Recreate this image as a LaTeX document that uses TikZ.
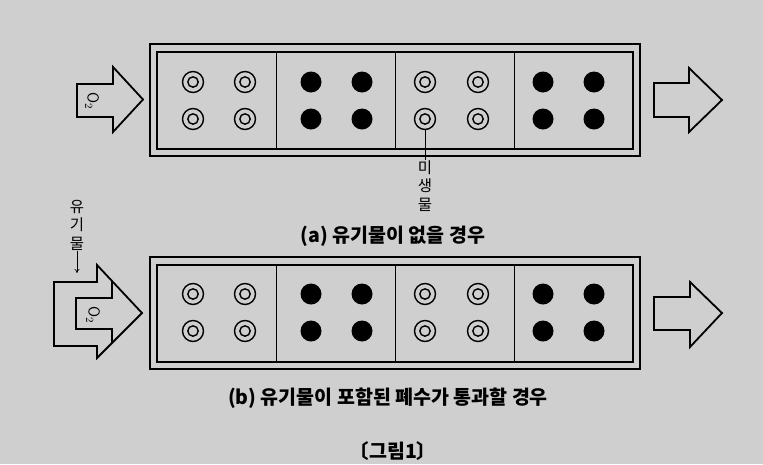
\documentclass[tikz,border=0pt]{standalone}
\usepackage{fontspec}
\newfontfamily\kr{Noto Sans CJK KR}
\usetikzlibrary{arrows.meta}
\definecolor{bg}{gray}{0.81}
\tikzset{
  ring/.style={circle, draw, line width=1.4pt, minimum size=21pt, inner sep=0pt,
    path picture={\draw[line width=1.4pt] (path picture bounding box.center) circle (5.2pt);}},
  dot/.style={circle, fill=black, minimum size=21pt, inner sep=0pt},
  outerbox/.style={line width=2pt},
  innerbox/.style={line width=1.1pt},
  divider/.style={line width=0.9pt},
  bigarrow/.style={line width=1.8pt, line join=miter},
  vlab/.style={font=\kr\fontsize{15.5}{18.5}\selectfont, align=center, inner sep=0pt},
  caption/.style={font=\kr\bfseries\fontsize{19.5}{21}\selectfont, inner sep=0pt},
  otwo/.style={font=\sffamily\fontsize{16}{16}\selectfont, rotate=-90, inner sep=0pt}
}
\begin{document}
\begin{tikzpicture}[x=1pt,y=-1pt]
\fill[bg] (0,0) rectangle (763,464);
\useasboundingbox (0,0) rectangle (763,464);

% ---------- top panel ----------
\draw[outerbox] (150,44) rectangle (640,156);
\draw[innerbox] (157,52) rectangle (633,149);
\foreach \xx in {276,395,514} \draw[divider] (\xx,52) -- (\xx,149);
\foreach \row/\yy in {1/82,2/119}{
  \foreach \col/\xx in {1/193,2/245,5/425,6/478}{\node[ring] (ta\row\col) at (\xx,\yy) {};}
  \foreach \col/\xx in {3/311,4/362,7/543,8/594}{\node[dot] (ta\row\col) at (\xx,\yy) {};}
}
% left arrow
\draw[bigarrow] (77,84) -- (113,84) -- (113,67) -- (143,99.5) -- (113,132) -- (113,117) -- (77,117) -- cycle;
\node[otwo] (o2a) at (92,101) {O$_2$};
% right arrow
\draw[bigarrow] (654,83) -- (689,83) -- (689,68) -- (722,100) -- (689,132) -- (689,117) -- (654,117) -- cycle;
% microbe label
\node[vlab, anchor=north] (mic) at (425,160) {미\\생\\물};
\draw[line width=0.6pt] (ta25.south) -- (mic.north);

\node[caption] (capa) at (393,236) {(a) 유기물이 없을 경우};

% ---------- bottom panel ----------
\draw[outerbox] (150,257) rectangle (640,369);
\draw[innerbox] (157,265) rectangle (633,362);
\foreach \xx in {276,395,514} \draw[divider] (\xx,265) -- (\xx,362);
\foreach \row/\yy in {1/294,2/331}{
  \foreach \col/\xx in {1/193,2/245,5/425,6/478}{\node[ring] (tb\row\col) at (\xx,\yy) {};}
  \foreach \col/\xx in {3/311,4/362,7/543,8/594}{\node[dot] (tb\row\col) at (\xx,\yy) {};}
}
% left double arrow
\draw[bigarrow] (54,282) -- (97,282) -- (97,265) -- (142,313) -- (97,358) -- (97,346) -- (54,346) -- cycle;
\draw[bigarrow] (112,281) -- (112,298) -- (76,298) -- (76,329) -- (112,329) -- (112,343);
\node[otwo] (o2b) at (93,315) {O$_2$};
% organic matter label
\node[vlab, anchor=north] (org) at (77,200) {유\\기\\물};
\coordinate (orgend) at (77,273);
\draw[line width=0.7pt, -{To[length=4pt,width=5pt]}] (org.south) -- (orgend);
% right arrow
\draw[bigarrow] (654,297) -- (690,297) -- (690,282) -- (722,313) -- (690,347) -- (690,330) -- (654,330) -- cycle;

\node[caption] (capb) at (388,398) {(b) 유기물이 포함된 폐수가 통과할 경우};
\node[caption] (fig) at (393,451) {〔그림1〕};
\end{tikzpicture}
\end{document}
